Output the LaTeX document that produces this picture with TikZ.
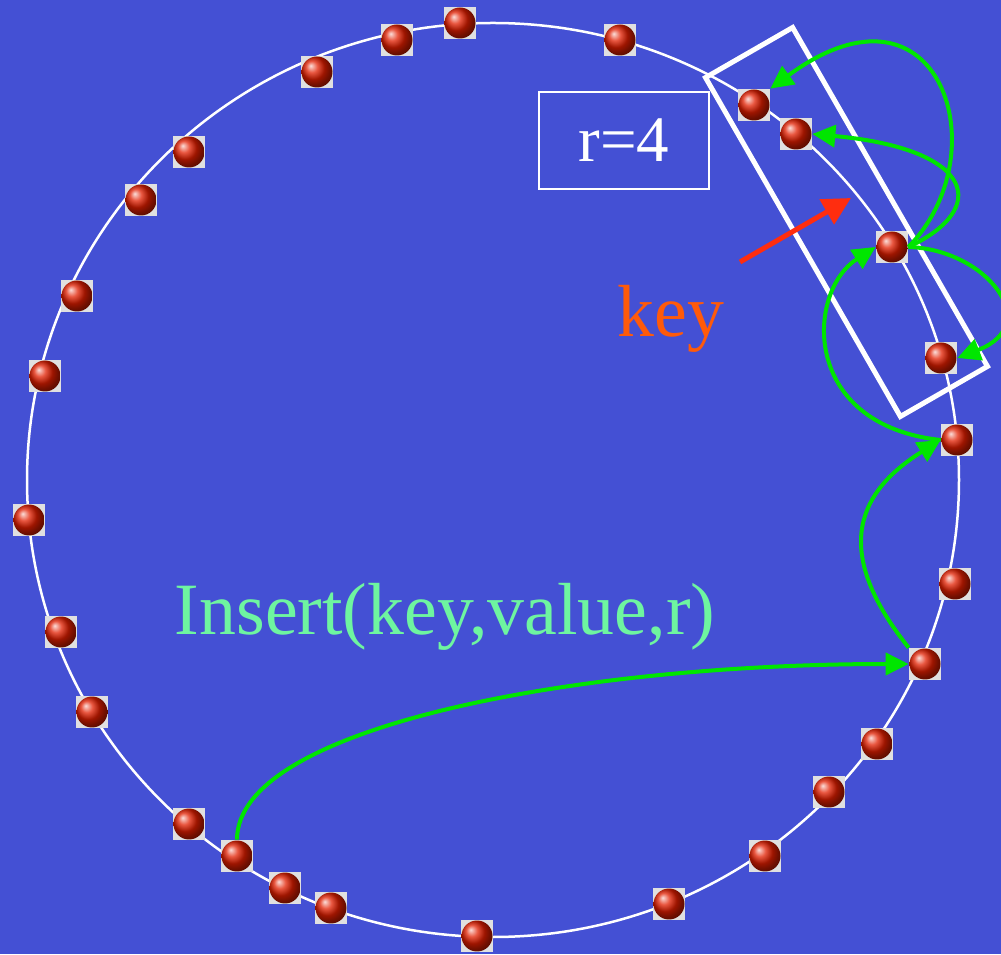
\documentclass[tikz,border=0pt]{standalone}
\usepackage{fontspec}
\setmainfont{Liberation Serif}
\usepackage{xcolor}
\usepackage{tikz}
\usetikzlibrary{arrows.meta,backgrounds}

\definecolor{slideblue}{RGB}{68,80,212}
\definecolor{beadred}{RGB}{225,30,0}
\definecolor{keyorange}{RGB}{255,90,10}
\definecolor{callgreen}{RGB}{110,245,160}
\definecolor{hopgreen}{RGB}{0,230,0}
\definecolor{pointred}{RGB}{255,45,15}

\begin{document}
\begin{tikzpicture}[
  x=0.02cm, y=0.02cm,
  bead/.style={rectangle, minimum size=0.64cm, inner sep=0pt, fill=white!88!black,
    path picture={\shade[ball color=beadred] (path picture bounding box.center) circle (0.31cm);}},
  ring/.style={draw=white, line width=0.05cm},
  window/.style={draw=white, line width=0.1cm, minimum width=7.82cm, minimum height=2.01cm, rotate=-60.1},
  rbox/.style={draw=white, line width=0.03cm, minimum width=3.4cm, minimum height=1.94cm, text=white,
    font=\fontsize{37}{42}\selectfont},
  hop/.style={-{Triangle[length=0.46cm, width=0.44cm]}, draw=hopgreen, line width=0.08cm},
  pointer/.style={-{Triangle[length=0.56cm, width=0.56cm]}, draw=pointred, line width=0.1cm},
  bigtext/.style={font=\fontsize{42}{48}\selectfont, anchor=base}
]
\useasboundingbox (0,0) rectangle (1001,954);

\foreach \n/\px/\py in {1/460/931, 2/620/914, 3/754/849, 4/796/820, 5/892/707, 6/941/596,
  7/957/514, 8/955/370, 9/925/290, 10/877/210, 11/829/162, 12/765/98, 13/669/50, 14/477/18,
  15/331/46, 16/285/66, 17/237/98, 18/189/130, 19/92/242, 20/61/322, 21/29/434, 22/45/578,
  23/77/658, 24/141/754, 25/189/802, 26/317/882, 27/397/914}
  \node[bead] (b\n) at (\px,\py) {};

\begin{scope}[on background layer]
  \fill[slideblue] (0,0) rectangle (1001,954);
  \draw[ring] (493,474) ellipse [x radius=466, y radius=457];
\end{scope}

\node[window] (replicas) at (846.5,732) {};
\node[rbox] (radius) at (624,813.5) {r=4};
\node[bigtext, text=keyorange] (keylabel) at (671,617) {key};
\node[bigtext, text=callgreen] (insertlabel) at (445,319) {Insert(key,value,r)};

\coordinate (keytail) at (740,692);
\coordinate (keytip) at (851,756);
\draw[pointer] (keytail) -- (keytip);

\draw[hop] (b17.north) .. controls +(0,112) and +(-335,0) .. (b9.west);
\draw[hop] (b9.north west) .. controls +(-80,100) and +(-80,-50) .. (b7.west);
\draw[hop] (b7.west) .. controls +(-140,15) and +(-70,-45) .. (b5.west);
\draw[hop] (b5.east) .. controls +(92,93) and +(170,125) .. (b3.north east);
\draw[hop] (b5.east) .. controls +(82,38) and +(163,-15) .. (b4.east);
\draw[hop] (b5.east) .. controls +(77,-2) and +(88,34) .. (b6.east);
\end{tikzpicture}
\end{document}
